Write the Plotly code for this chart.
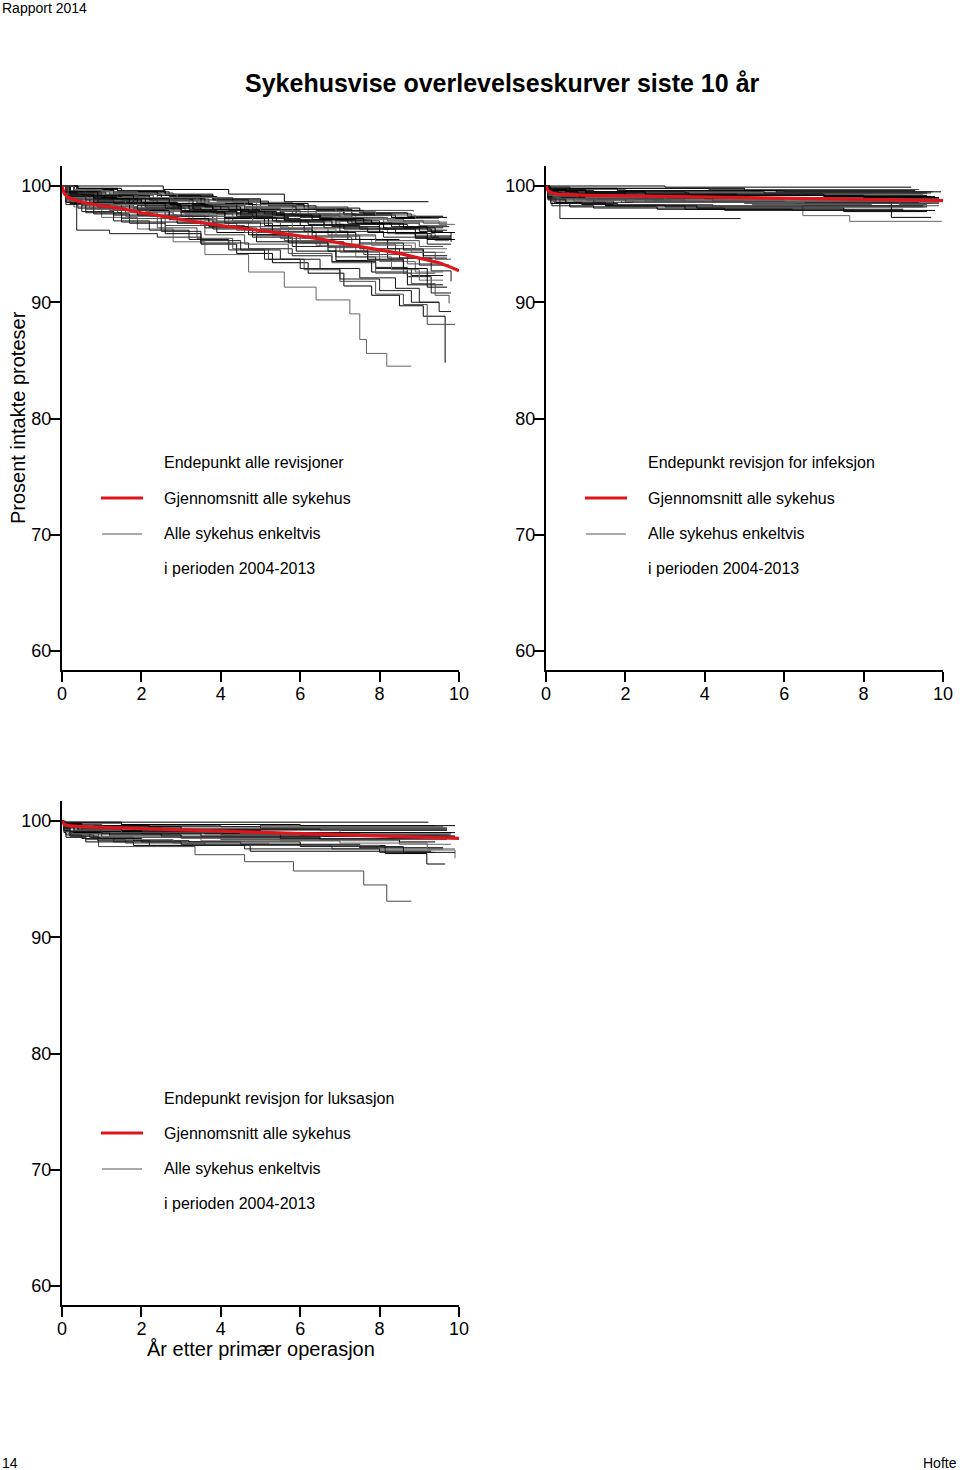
import plotly.graph_objects as go

# ---------------- DATA ----------------
x_ticks = [0, 2, 4, 6, 8, 10]
y_ticks = [60, 70, 80, 90, 100]

legend_titles = ["Endepunkt alle revisjoner", "Endepunkt revisjon for infeksjon", "Endepunkt revisjon for luksasjon"]
legend_mean = "Gjennomsnitt alle sykehus"
legend_each = "Alle sykehus enkeltvis"
legend_period = "i perioden 2004-2013"

# Panel 1: all revisions (time in years, percent intact)
p1_times = [
    [0, 2.55, 4.2, 5.6, 9.23],
    [0, 0.4, 1.3, 2.8, 4.3, 5.8, 7.2, 8.85],
    [0, 0.2, 0.9, 2.1, 3.4, 4.6, 5.9, 7.1, 8.3, 9.7],
    [0, 0.1, 0.7, 1.6, 2.9, 4.0, 5.3, 6.5, 7.8, 9.0, 9.75],
    [0, 0.3, 1.2, 2.4, 3.7, 5.0, 6.2, 7.4, 8.6, 9.5, 9.7],
    [0, 0.15, 0.8, 2.0, 3.2, 4.4, 5.6, 6.9, 8.1, 9.3, 9.8],
    [0, 0.2, 1.0, 2.2, 3.5, 4.9, 6.0, 7.3, 8.5, 9.6],
    [0, 0.1, 0.6, 1.8, 3.0, 4.1, 5.4, 6.6, 7.7, 8.9, 9.8],
    [0, 0.3, 1.4, 2.7, 3.9, 5.2, 6.4, 7.6, 8.8, 9.55],
    [0, 0.2, 1.1, 2.3, 3.3, 4.5, 5.7, 7.0, 8.2, 9.4, 9.75],
    [0, 0.1, 0.5, 1.5, 2.6, 3.8, 5.0, 6.3, 7.5, 8.6, 9.1, 9.7],
    [0, 0.2, 0.9, 2.0, 3.1, 4.3, 5.5, 6.7, 7.9, 9.0, 9.6],
    [0, 0.1, 0.4, 1.3, 2.5, 3.6, 4.8, 5.9, 7.1, 8.2, 9.0, 9.75],
    [0, 0.37, 1.2, 2.4, 3.5, 4.7, 5.8, 6.8, 7.9, 8.8, 9.6],
    [0, 0.3, 1.0, 1.9, 2.8, 3.6, 4.7, 5.6, 6.4, 7.25, 7.5, 7.67, 8.18, 8.8],
    [0, 0.2, 0.8, 1.7, 2.6, 3.5, 4.4, 5.3, 6.2, 7.1, 7.8, 8.5, 9.1, 9.65],
    [0, 0.1, 0.6, 1.5, 2.4, 3.4, 4.3, 5.2, 6.1, 7.0, 7.9, 8.6, 9.2, 9.9],
    [0, 0.2, 0.9, 1.9, 2.9, 3.9, 4.9, 5.9, 6.9, 7.8, 8.7, 9.6],
    [0, 0.1, 0.7, 1.6, 2.7, 3.8, 4.8, 5.8, 6.9, 7.9, 8.7, 9.3, 9.8],
    [0, 0.3, 1.1, 2.1, 3.2, 4.2, 5.3, 6.4, 7.4, 8.3, 9.0, 9.6],
    [0, 0.2, 1.0, 2.0, 3.0, 4.1, 5.1, 6.1, 7.2, 8.2, 9.1, 9.7],
    [0, 0.1, 0.5, 1.4, 2.4, 3.5, 4.6, 5.6, 6.7, 7.7, 8.6, 9.4],
    [0, 0.3, 1.3, 2.5, 3.6, 4.8, 5.9, 7.0, 8.0, 8.9, 9.5],
    [0, 0.2, 0.8, 1.8, 2.8, 3.8, 4.9, 6.0, 7.0, 8.1, 9.2, 9.8],
    [0, 0.1, 0.6, 1.6, 2.6, 3.6, 4.7, 5.7, 6.8, 7.8, 8.8, 9.65],
    [0, 0.4, 1.5, 2.6, 3.8, 5.0, 6.1, 7.3, 8.4, 9.1],
    [0, 0.3, 1.2, 2.3, 3.5, 4.6, 5.8, 7.1],
    [0, 0.2, 0.9, 1.9, 3.0, 4.1, 5.2, 6.3, 7.4, 8.5],
    [0, 0.1, 0.5, 1.3, 2.2, 3.2, 4.2, 5.1, 6.0, 7.0, 8.0, 8.8, 9.5, 9.8],
    [0, 0.2, 0.9, 1.8, 2.8, 3.9, 4.9, 6.0, 7.0, 8.0, 8.9, 9.6],
    [0, 0.3, 1.1, 2.2, 3.3, 4.4, 5.5, 6.5, 7.6, 8.6, 9.4, 9.9],
    [0, 0.1, 0.7, 1.7, 2.8, 3.9, 5.0, 6.2, 7.3, 8.4, 9.4, 9.8],
    [0, 0.2, 0.8, 1.7, 2.7, 3.7, 4.7, 5.7, 6.7, 7.7, 8.6, 9.2, 9.7],
    [0, 0.1, 0.6, 1.5, 2.5, 3.5, 4.5, 5.5, 6.5, 7.5, 8.4, 9.0, 9.5],
    [0, 0.3, 1.2, 2.3, 3.4, 4.6, 5.8, 7.0, 8.1, 9.0, 9.7],
    [0, 0.2, 1.0, 2.1, 3.3, 4.5, 5.6, 6.8, 8.0, 9.2, 9.9],
    [0, 0.1, 0.4, 1.2, 2.2, 3.3, 4.4, 5.5, 6.5, 7.6, 8.7, 9.6],
    [0, 0.3, 1.3, 2.4, 3.5, 4.7, 5.9, 7.1, 8.3, 9.3],
    [0, 0.2, 0.9, 1.9, 3.0, 4.1, 5.3, 6.4, 7.5, 8.5, 9.3, 9.8],
    [0, 0.1, 0.6, 1.6, 2.7, 3.7, 4.8, 5.8, 6.9, 7.9, 8.9, 9.7],
    [0, 0.4, 1.4, 2.6, 3.8, 5.0, 6.2, 7.5, 8.7, 9.6],
    [0, 0.2, 0.7, 1.6, 2.6, 3.6, 4.6, 5.7, 6.8, 7.9, 8.8, 9.4, 9.75],
    [0, 0.1, 0.5, 1.2, 2.0, 2.9, 3.8, 4.7, 5.6, 6.5, 7.4, 8.3, 9.2, 9.7],
    [0, 0.15, 0.7, 1.5, 2.4, 3.3, 4.2, 5.1, 6.0, 6.9, 7.8, 8.7, 9.6],
    [0, 0.1, 0.6, 1.4, 2.3, 3.2, 4.1, 5.0, 5.9, 6.8, 7.7, 8.6, 9.5, 9.9],
    [0, 0.2, 0.8, 1.7, 2.6, 3.5, 4.4, 5.3, 6.2, 7.1, 8.0, 8.9, 9.8],
    [0, 0.1, 0.4, 1.1, 1.9, 2.8, 3.7, 4.6, 5.5, 6.4, 7.3, 8.2, 9.1, 9.7],
    [0, 0.2, 0.9, 1.8, 2.7, 3.6, 4.5, 5.4, 6.3, 7.2, 8.1, 9.0, 9.6],
    [0, 0.1, 0.6, 1.3, 2.1, 3.0, 3.9, 4.8, 5.7, 6.6, 7.5, 8.4, 9.3, 9.8],
    [0, 0.3, 1.0, 1.9, 2.9, 3.9, 4.9, 5.9, 6.9, 7.9, 8.9, 9.5],
]
p1_values = [
    [100, 99.7, 99.3, 98.65, 98.65],
    [100, 99.7, 99.4, 99.0, 98.6, 98.2, 97.9, 97.8],
    [100, 99.5, 99.2, 98.9, 98.5, 98.2, 97.8, 97.5, 97.3, 97.3],
    [100, 99.3, 98.9, 98.6, 98.3, 97.9, 97.5, 97.1, 96.8, 96.5, 96.5],
    [100, 99.6, 99.3, 98.9, 98.4, 98.0, 97.6, 97.2, 97.0, 96.9, 96.9],
    [100, 99.2, 98.8, 98.4, 98.0, 97.6, 97.1, 96.7, 96.3, 96.0, 95.2],
    [100, 99.5, 99.1, 98.8, 98.4, 97.9, 97.4, 96.8, 96.5, 96.5],
    [100, 99.0, 98.6, 98.1, 97.7, 97.3, 96.9, 96.4, 96.0, 95.5, 95.5],
    [100, 99.7, 99.5, 99.1, 98.7, 98.3, 97.9, 97.6, 97.3, 97.3],
    [100, 99.4, 98.9, 98.4, 97.9, 97.4, 96.9, 96.4, 95.9, 95.3, 95.3],
    [100, 98.9, 98.4, 97.9, 97.4, 96.9, 96.3, 95.7, 95.1, 94.5, 94.0, 94.0],
    [100, 99.2, 98.7, 98.1, 97.6, 97.0, 96.4, 95.8, 95.3, 94.8, 94.8],
    [100, 98.6, 98.1, 97.5, 96.9, 96.4, 95.8, 95.2, 94.4, 93.8, 93.2, 93.2],
    [100, 96.2, 95.9, 95.6, 95.1, 94.6, 94.0, 93.5, 92.9, 92.3, 92.3],
    [100, 98.2, 97.3, 96.3, 95.2, 94.1, 92.6, 91.3, 90.2, 89.0, 86.8, 85.6, 84.5, 84.5],
    [100, 98.5, 97.6, 96.8, 95.9, 95.0, 94.2, 93.4, 92.5, 91.4, 90.6, 89.7, 88.8, 84.8],
    [100, 98.8, 98.0, 97.2, 96.4, 95.5, 94.6, 93.7, 92.8, 91.8, 90.7, 89.8, 88.1, 88.1],
    [100, 98.9, 98.2, 97.5, 96.8, 96.0, 95.2, 94.4, 93.6, 92.6, 91.5, 91.5],
    [100, 99.1, 98.5, 97.9, 97.1, 96.3, 95.6, 94.8, 93.9, 93.0, 92.2, 90.8, 90.8],
    [100, 99.0, 98.4, 97.8, 97.2, 96.5, 95.7, 94.9, 93.9, 92.8, 91.9, 91.9],
    [100, 99.3, 98.9, 98.4, 97.8, 97.2, 96.6, 96.1, 95.4, 94.6, 93.8, 93.8],
    [100, 98.7, 98.3, 97.7, 97.2, 96.6, 96.0, 95.3, 94.7, 93.6, 92.5, 92.5],
    [100, 99.6, 99.3, 98.9, 98.5, 98.0, 97.5, 97.0, 96.3, 95.6, 95.6],
    [100, 99.4, 99.0, 98.6, 98.2, 97.7, 97.2, 96.6, 96.1, 95.6, 95.0, 95.0],
    [100, 99.0, 98.5, 98.0, 97.5, 97.0, 96.5, 96.0, 95.4, 94.9, 94.3, 94.3],
    [100, 99.8, 99.5, 99.2, 98.8, 98.4, 98.0, 97.5, 97.2, 97.2],
    [100, 99.5, 99.2, 98.8, 98.3, 97.9, 97.5, 97.5],
    [100, 99.3, 98.9, 98.3, 97.8, 97.2, 96.6, 96.0, 95.4, 95.4],
    [100, 98.6, 97.8, 97.0, 96.2, 95.4, 94.5, 93.7, 92.9, 92.0, 91.0, 90.0, 89.2, 89.2],
    [100, 98.9, 98.3, 97.7, 97.1, 96.4, 95.7, 95.1, 94.3, 93.5, 92.6, 92.6],
    [100, 99.5, 99.2, 98.8, 98.4, 98.0, 97.6, 97.2, 96.8, 96.4, 96.0, 96.0],
    [100, 99.2, 98.7, 98.1, 97.5, 96.9, 96.3, 95.6, 95.0, 94.3, 93.7, 93.7],
    [100, 99.1, 98.6, 97.9, 97.2, 96.5, 95.8, 95.1, 94.4, 93.7, 92.9, 91.3, 91.3],
    [100, 98.4, 97.7, 96.9, 96.1, 95.3, 94.5, 93.7, 92.9, 92.1, 91.2, 90.0, 90.0],
    [100, 99.6, 99.4, 99.0, 98.6, 98.2, 97.8, 97.3, 96.9, 96.6, 96.6],
    [100, 99.4, 99.0, 98.5, 98.0, 97.5, 97.0, 96.5, 96.0, 95.4, 95.4],
    [100, 98.9, 98.4, 97.9, 97.4, 96.8, 96.2, 95.5, 94.8, 94.1, 93.3, 93.3],
    [100, 99.7, 99.5, 99.2, 98.8, 98.4, 98.0, 97.6, 97.3, 97.3],
    [100, 99.1, 98.6, 98.0, 97.4, 96.8, 96.1, 95.4, 94.6, 93.8, 92.7, 91.8],
    [100, 99.3, 98.9, 98.4, 97.9, 97.4, 96.9, 96.3, 95.7, 95.1, 94.6, 94.6],
    [100, 99.8, 99.6, 99.3, 98.9, 98.5, 98.1, 97.7, 97.4, 97.4],
    [100, 98.8, 98.1, 97.4, 96.6, 95.8, 95.0, 94.2, 93.4, 92.5, 91.6, 90.6, 89.9],
    [100, 99.5, 99.2, 98.9, 98.6, 98.3, 98.0, 97.7, 97.4, 97.1, 96.8, 96.5, 96.2, 96.2],
    [100, 99.4, 99.1, 98.8, 98.5, 98.2, 97.9, 97.6, 97.3, 97.0, 96.7, 96.4, 96.4],
    [100, 99.6, 99.3, 99.0, 98.8, 98.5, 98.2, 97.9, 97.6, 97.3, 97.1, 96.9, 96.7, 96.7],
    [100, 99.3, 98.9, 98.5, 98.1, 97.8, 97.4, 97.0, 96.7, 96.3, 96.0, 95.7, 95.7],
    [100, 99.6, 99.4, 99.2, 98.9, 98.7, 98.4, 98.1, 97.8, 97.6, 97.3, 97.0, 96.8, 96.8],
    [100, 99.5, 99.2, 98.9, 98.5, 98.2, 97.8, 97.5, 97.1, 96.8, 96.4, 96.1, 96.1],
    [100, 99.2, 98.8, 98.5, 98.2, 97.9, 97.6, 97.3, 97.0, 96.6, 96.3, 95.9, 95.6, 95.6],
    [100, 99.7, 99.5, 99.3, 99.0, 98.7, 98.4, 98.1, 97.8, 97.5, 97.2, 97.2],
]
p1_mean_t = [0, 0.05, 0.15, 0.3, 0.5, 1, 1.5, 2, 2.5, 3, 3.5, 4, 4.5, 5, 5.5, 6, 6.5, 7, 7.5, 8, 8.5, 9, 9.5, 9.8, 10]
p1_mean_v = [100, 99.4, 99.0, 98.8, 98.6, 98.3, 98.05, 97.7, 97.4, 97.1, 96.85, 96.6, 96.4, 96.2, 95.95, 95.7, 95.45, 95.1, 94.8, 94.5, 94.2, 93.8, 93.4, 93.0, 92.7]

# Panel 2: revision for infection
p2_times = [
    [0, 3.0, 9.2],
    [0, 0.1, 4.1, 9.4],
    [0, 0.05, 1.2, 5.5, 9.6],
    [0, 0.05, 0.5, 2.3, 7.0, 9.8],
    [0, 0.05, 0.3, 1.6, 4.0, 7.8, 9.9],
    [0, 0.05, 0.2, 1.0, 3.5, 6.3, 9.7],
    [0, 0.05, 0.4, 2.0, 5.2, 8.2, 9.9],
    [0, 0.1, 0.5, 1.5, 3.5, 6.2, 9.8],
    [0, 0.05, 0.35, 4.9],
    [0, 0.1, 0.5, 1.9, 6.47, 7.65, 9.97],
    [0, 0.05, 0.3, 1.3, 4.2, 8.7, 9.7],
    [0, 0.05, 0.6, 2.5, 9.5],
    [0, 0.05, 0.2, 0.9, 3.0, 9.6],
    [0, 0.05, 0.15, 1.2, 4.5, 9.3],
    [0, 0.1, 2.0, 6.0, 9.75],
    [0, 0.05, 0.8, 4.8, 9.85],
    [0, 0.05, 0.3, 2.7, 6.0, 9.9],
    [0, 0.05, 0.25, 1.5, 3.8, 7.5, 9.6],
    [0, 0.05, 1.0, 3.5, 9.7],
    [0, 0.05, 0.5, 2.5, 5.0, 9.8],
    [0, 0.05, 0.12, 0.6, 2.8, 9.0],
    [0, 0.05, 0.2, 0.7, 1.7, 4.2, 9.5],
    [0, 0.05, 1.8, 5.8, 9.95],
    [0, 0.05, 0.4, 1.2, 9.4],
    [0, 0.05, 0.3, 2.2, 6.5, 9.5],
    [0, 0.1, 1.0, 3.6, 8.0, 9.9],
    [0, 0.05, 0.2, 2.0, 8.9, 9.6],
    [0, 0.05, 0.6, 5.0, 9.3],
    [0, 0.05, 0.3, 1.5, 4.0, 9.9],
    [0, 0.05, 0.2, 1.0, 3.0, 6.0, 9.8],
    [0, 0.05, 0.5, 2.5, 7.0, 9.7],
    [0, 0.05, 0.15, 0.8, 2.5, 5.0, 9.9],
    [0, 0.05, 0.3, 2.0, 9.6],
    [0, 0.05, 0.1, 0.5, 1.8, 9.5],
]
p2_values = [
    [100, 99.9, 99.9],
    [100, 99.8, 99.7, 99.7],
    [100, 99.6, 99.5, 99.4, 99.4],
    [100, 99.5, 99.3, 99.2, 99.1, 99.1],
    [100, 99.3, 99.1, 99.0, 98.9, 98.8, 98.8],
    [100, 99.2, 99.0, 98.8, 98.6, 98.5, 98.5],
    [100, 99.0, 98.8, 98.6, 98.4, 98.3, 98.3],
    [100, 98.9, 98.5, 98.3, 98.0, 97.9, 97.9],
    [100, 99.0, 97.2, 97.2],
    [100, 99.3, 98.9, 98.6, 97.45, 96.96, 96.96],
    [100, 99.4, 99.1, 98.9, 98.7, 97.3, 97.3],
    [100, 99.6, 99.4, 99.3, 99.3],
    [100, 99.2, 98.6, 98.4, 98.2, 98.2],
    [100, 98.9, 98.3, 98.1, 97.9, 97.9],
    [100, 99.7, 99.6, 99.5, 99.5],
    [100, 99.5, 99.3, 99.0, 99.0],
    [100, 99.4, 99.0, 98.8, 98.6, 98.6],
    [100, 99.1, 98.6, 98.3, 98.1, 97.8, 97.8],
    [100, 99.7, 99.5, 99.4, 99.4],
    [100, 99.5, 99.3, 99.2, 99.0, 99.0],
    [100, 98.8, 98.5, 98.2, 98.0, 98.0],
    [100, 99.3, 99.0, 98.7, 98.4, 98.2, 98.2],
    [100, 99.8, 99.6, 99.5, 99.5],
    [100, 99.4, 99.0, 98.6, 98.6],
    [100, 99.2, 98.8, 98.6, 98.3, 98.3],
    [100, 99.6, 99.4, 99.2, 99.0, 99.0],
    [100, 99.3, 98.9, 98.7, 98.4, 98.4],
    [100, 99.9, 99.8, 99.6, 99.6],
    [100, 99.5, 99.3, 99.1, 98.9, 98.9],
    [100, 99.4, 99.2, 99.0, 98.8, 98.7, 98.7],
    [100, 99.7, 99.5, 99.3, 99.1, 99.1],
    [100, 99.3, 99.1, 98.9, 98.7, 98.5, 98.5],
    [100, 99.6, 99.4, 99.2, 99.2],
    [100, 99.1, 98.8, 98.5, 98.3, 98.3],
]
p2_mean_t = [0, 0.05, 0.15, 0.3, 0.6, 1, 2, 3, 4, 5, 6, 7, 8, 9, 10]
p2_mean_v = [100, 99.6, 99.4, 99.3, 99.25, 99.2, 99.15, 99.1, 99.05, 99.0, 98.95, 98.9, 98.85, 98.8, 98.75]

# Panel 3: revision for dislocation
p3_times = [
    [0, 0.05, 9.23],
    [0, 0.05, 1.5, 5.0, 9.4],
    [0, 0.05, 0.5, 2.5, 6.5, 9.7],
    [0, 0.05, 0.3, 1.5, 4.0, 7.5, 9.9],
    [0, 0.05, 0.2, 1.0, 3.0, 5.5, 8.5, 9.8],
    [0, 0.05, 0.2, 0.8, 2.0, 4.5, 7.5, 9.6],
    [0, 0.1, 0.5, 0.92, 1.6, 2.4, 3.35, 4.6, 5.83, 7.6, 8.18, 8.8],
    [0, 0.05, 0.2, 0.7, 1.8, 3.2, 6.0, 8.14, 9.19, 9.65],
    [0, 0.05, 0.4, 1.5, 3.6, 6.6, 9.5],
    [0, 0.05, 0.25, 1.0, 2.8, 5.2, 8.0, 9.9],
    [0, 0.05, 0.1, 0.6, 1.8, 4.74, 9.3],
    [0, 0.05, 1.0, 4.0, 9.6],
    [0, 0.05, 0.3, 2.0, 6.0, 9.75],
    [0, 0.05, 0.15, 0.8, 2.5, 5.5, 9.85],
    [0, 0.05, 0.2, 1.2, 3.5, 7.0, 9.2, 9.9],
    [0, 0.05, 0.5, 2.2, 5.0, 9.7],
    [0, 0.05, 0.2, 0.6, 1.6, 3.6, 6.8, 9.6],
    [0, 0.05, 0.3, 1.2, 3.0, 6.5, 8.5, 9.4],
    [0, 0.05, 0.1, 0.5, 1.3, 3.0, 6.0, 8.6, 9.9],
    [0, 0.05, 0.8, 3.0, 7.0, 9.8],
    [0, 0.05, 0.4, 2.0, 5.5, 9.5],
    [0, 0.05, 0.15, 1.0, 4.0, 9.7],
    [0, 0.05, 1.5, 6.0, 9.9],
    [0, 0.05, 0.2, 0.9, 2.2, 4.6, 8.0, 9.4],
    [0, 0.05, 0.3, 1.5, 4.5, 9.8],
    [0, 0.05, 0.3, 1.5, 5.0, 9.9],
    [0, 0.05, 0.2, 1.0, 4.0, 9.8],
    [0, 0.05, 0.5, 3.0, 9.7],
    [0, 0.05, 0.2, 1.0, 3.5, 9.9],
]
p3_values = [
    [100, 99.9, 99.9],
    [100, 99.8, 99.7, 99.6, 99.6],
    [100, 99.6, 99.4, 99.3, 99.2, 99.2],
    [100, 99.5, 99.2, 99.0, 98.9, 98.7, 98.7],
    [100, 99.3, 99.0, 98.7, 98.5, 98.3, 98.0, 98.0],
    [100, 99.2, 98.8, 98.5, 98.2, 98.0, 97.7, 97.7],
    [100, 99.5, 99.0, 97.8, 97.8, 97.8, 97.1, 96.5, 95.7, 94.5, 93.1, 93.1],
    [100, 99.4, 99.0, 98.6, 98.3, 98.2, 97.9, 97.2, 96.3, 96.3],
    [100, 99.6, 99.3, 99.1, 98.9, 98.7, 98.7],
    [100, 99.1, 98.7, 98.4, 98.1, 97.9, 97.5, 96.8],
    [100, 99.0, 98.6, 98.2, 97.9, 97.4, 97.4],
    [100, 99.7, 99.6, 99.5, 99.5],
    [100, 99.5, 99.2, 99.0, 98.8, 98.8],
    [100, 99.4, 99.1, 98.9, 98.7, 98.5, 98.5],
    [100, 99.2, 98.9, 98.6, 98.3, 98.1, 97.6, 97.6],
    [100, 99.8, 99.6, 99.5, 99.4, 99.4],
    [100, 99.1, 98.7, 98.4, 98.1, 97.9, 97.6, 97.6],
    [100, 99.4, 99.0, 98.8, 98.6, 98.4, 98.2, 98.2],
    [100, 99.2, 98.8, 98.5, 98.2, 98.0, 97.8, 97.3, 97.3],
    [100, 99.6, 99.4, 99.2, 99.0, 99.0],
    [100, 99.5, 99.1, 98.9, 98.7, 98.7],
    [100, 99.3, 98.9, 98.6, 98.4, 98.4],
    [100, 99.9, 99.7, 99.6, 99.6],
    [100, 99.2, 98.7, 98.3, 97.9, 97.6, 97.3, 97.3],
    [100, 99.5, 99.2, 99.0, 98.9, 98.9],
    [100, 99.6, 99.4, 99.2, 99.0, 99.0],
    [100, 99.5, 99.2, 99.0, 98.8, 98.8],
    [100, 99.7, 99.5, 99.3, 99.3],
    [100, 99.4, 99.1, 98.9, 98.7, 98.7],
]
p3_mean_t = [0, 0.05, 0.15, 0.3, 0.6, 1, 2, 3, 4, 5, 6, 7, 8, 9, 10]
p3_mean_v = [100, 99.75, 99.6, 99.55, 99.5, 99.45, 99.35, 99.25, 99.15, 99.05, 98.95, 98.85, 98.75, 98.6, 98.5]

# ---------------- FIGURE ----------------
W, H = 960, 1470
FONT = "Liberation Sans, Arial, Helvetica, sans-serif"
curve_colors = ["#000000", "#4a4a4a", "#000000", "#1a1a1a", "#666666"]
Y_RANGE = [58.37, 101.72]


def px_x(p):
    return p / W


def px_y(p):
    return 1 - p / H


fig = go.Figure()

panels = [
    (p1_times, p1_values, p1_mean_t, p1_mean_v, "x", "y"),
    (p2_times, p2_values, p2_mean_t, p2_mean_v, "x2", "y2"),
    (p3_times, p3_values, p3_mean_t, p3_mean_v, "x3", "y3"),
]
for times, values, mt, mv, xa, ya in panels:
    for i, (t, v) in enumerate(zip(times, values)):
        fig.add_trace(go.Scatter(x=t, y=v, mode="lines", line_shape="hv",
                                 line=dict(color=curve_colors[i % len(curve_colors)], width=1),
                                 xaxis=xa, yaxis=ya, showlegend=False, hoverinfo="skip"))
    fig.add_trace(go.Scatter(x=mt, y=mv, mode="lines",
                             line=dict(color="#e0141b", width=3.2),
                             xaxis=xa, yaxis=ya, showlegend=False, hoverinfo="skip"))

axis_common = dict(showgrid=False, zeroline=False, showline=True, linecolor="black", linewidth=2,
                   ticks="outside", ticklen=10, tickwidth=1.5, tickcolor="black",
                   tickfont=dict(family=FONT, size=18, color="black"), fixedrange=True)

x_dom_left = [px_x(62), px_x(459)]
x_dom_right = [px_x(546), px_x(943)]
y_dom_top = [px_y(670), px_y(166)]
y_dom_bot = [px_y(1305), px_y(801)]

fig.update_layout(
    width=W, height=H, margin=dict(l=0, r=0, t=0, b=0, autoexpand=False),
    paper_bgcolor="white", plot_bgcolor="white",
    xaxis=dict(domain=x_dom_left, range=[0, 10], tickvals=x_ticks, anchor="y", ticklabelstandoff=-4, **axis_common),
    yaxis=dict(domain=y_dom_top, range=Y_RANGE, tickvals=y_ticks, anchor="x", ticklabelstandoff=-5, **axis_common),
    xaxis2=dict(domain=x_dom_right, range=[0, 10], tickvals=x_ticks, anchor="y2", ticklabelstandoff=-4, **axis_common),
    yaxis2=dict(domain=y_dom_top, range=Y_RANGE, tickvals=y_ticks, anchor="x2", ticklabelstandoff=-5, **axis_common),
    xaxis3=dict(domain=x_dom_left, range=[0, 10], tickvals=x_ticks, anchor="y3", ticklabelstandoff=-4, **axis_common),
    yaxis3=dict(domain=y_dom_bot, range=Y_RANGE, tickvals=y_ticks, anchor="x3", ticklabelstandoff=-5, **axis_common),
    showlegend=False,
)

ann = []
ann.append(dict(text="Rapport 2014", x=0, y=px_y(8), xref="paper", yref="paper", xanchor="left",
                yanchor="middle", showarrow=False, font=dict(family=FONT, size=14, color="black")))
ann.append(dict(text="<b>Sykehusvise overlevelseskurver siste 10 år</b>", x=px_x(502), y=px_y(83),
                xref="paper", yref="paper", xanchor="center", yanchor="middle", showarrow=False,
                font=dict(family=FONT, size=25, color="black")))
ann.append(dict(text="14", x=0, y=px_y(1463), xref="paper", yref="paper", xanchor="left",
                yanchor="middle", showarrow=False, font=dict(family=FONT, size=14, color="black")))
ann.append(dict(text="Hofte", x=px_x(959), y=px_y(1463), xref="paper", yref="paper", xanchor="right",
                yanchor="middle", showarrow=False, font=dict(family=FONT, size=14, color="black")))
ann.append(dict(text="Prosent intakte proteser", x=px_x(18), y=px_y(418), xref="paper", yref="paper",
                xanchor="center", yanchor="middle", textangle=-90, showarrow=False,
                font=dict(family=FONT, size=20, color="black")))
ann.append(dict(text="År etter primær operasjon", x=px_x(261), y=px_y(1349), xref="paper", yref="paper",
                xanchor="center", yanchor="middle", showarrow=False,
                font=dict(family=FONT, size=20, color="black")))

shapes = []
legend_pos = [(62, 463, legend_titles[0]), (546, 463, legend_titles[1]), (62, 1098, legend_titles[2])]
for ax0, y0, title in legend_pos:
    lines = [title, legend_mean, legend_each, legend_period]
    for k, txt in enumerate(lines):
        ann.append(dict(text=txt, x=px_x(ax0 + 100), y=px_y(y0 + 35 * k), xref="paper", yref="paper",
                        xanchor="left", yanchor="middle", showarrow=False,
                        font=dict(family=FONT, size=16, color="black")))
    shapes.append(dict(type="line", xref="paper", yref="paper", x0=px_x(ax0 + 39), x1=px_x(ax0 + 81),
                       y0=px_y(y0 + 35), y1=px_y(y0 + 35), line=dict(color="#e0141b", width=3)))
    shapes.append(dict(type="line", xref="paper", yref="paper", x0=px_x(ax0 + 40), x1=px_x(ax0 + 80),
                       y0=px_y(y0 + 71), y1=px_y(y0 + 71), line=dict(color="#555555", width=1)))

fig.update_layout(annotations=ann, shapes=shapes)
fig.write_html("out.html",
               post_script="document.body.style.margin='0';document.body.style.padding='0';"
                           "document.body.style.overflow='hidden';")
